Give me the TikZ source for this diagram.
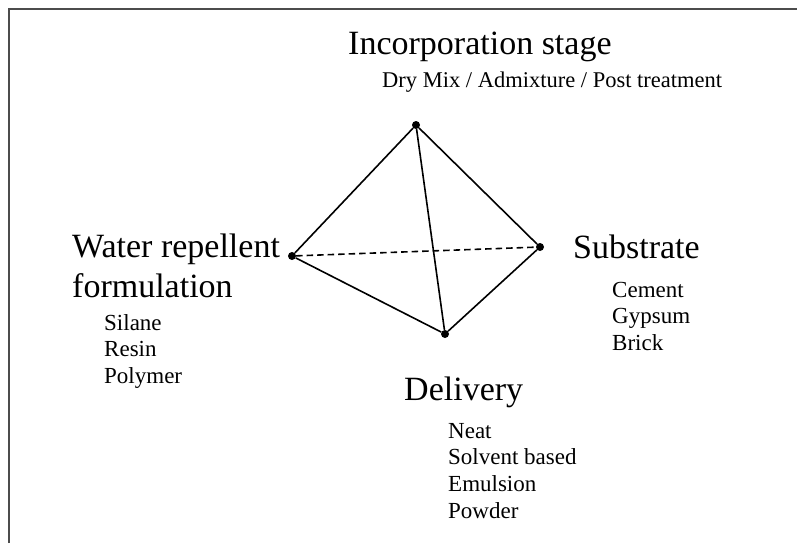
\documentclass[tikz,border=0pt]{standalone}
\usepackage{fontspec}
\setmainfont{Liberation Serif}
\tikzset{
  head/.style={anchor=base west,inner sep=0pt,align=left,font=\fontsize{34}{40}\selectfont},
  item/.style={anchor=base west,inner sep=0pt,align=left,font=\fontsize{23}{26.7}\selectfont},
  vtx/.style={circle,fill=black,inner sep=0pt,minimum size=8pt},
  edge/.style={line width=1.6pt}
}
\begin{document}
\begin{tikzpicture}[x=1pt,y=-1pt]
    \useasboundingbox (0,0) rectangle (797,543);
    \draw[black!70,line width=1.2pt] (9,543) -- (9,9) -- (797,9);

    % corners of the tetrahedron
    \node[vtx] (top) at (416,125) {};
    \node[vtx] (left) at (292,256) {};
    \node[vtx] (right) at (540,247) {};
    \node[vtx] (bottom) at (445,334) {};

    \draw[edge] (top) -- (left);
    \draw[edge] (top) -- (right);
    \draw[edge] (top) -- (bottom);
    \draw[edge] (left) -- (bottom);
    \draw[edge] (right) -- (bottom);
    \draw[edge,dash pattern=on 6.5pt off 4pt] (left) -- (right);

    % labels (base = baseline of the last line)
    \node[head] (stage) at (348,55) {Incorporation stage};
    \node[item,font=\fontsize{22.5}{26.7}\selectfont] (stageitems) at (382,87)
        {Dry Mix / Admixture / Post treatment};

    \node[head] (formulation) at (72,297) {Water repellent\\formulation};
    \node[item] (formitems) at (104,383.4) {Silane\\Resin\\Polymer};

    \node[head] (substrate) at (573,258) {Substrate};
    \node[item] (subitems) at (612,350.4) {Cement\\Gypsum\\Brick};

    \node[head] (delivery) at (404,400) {Delivery};
    \node[item] (delitems) at (448,518.1) {Neat\\Solvent based\\Emulsion\\Powder};
\end{tikzpicture}
\end{document}
